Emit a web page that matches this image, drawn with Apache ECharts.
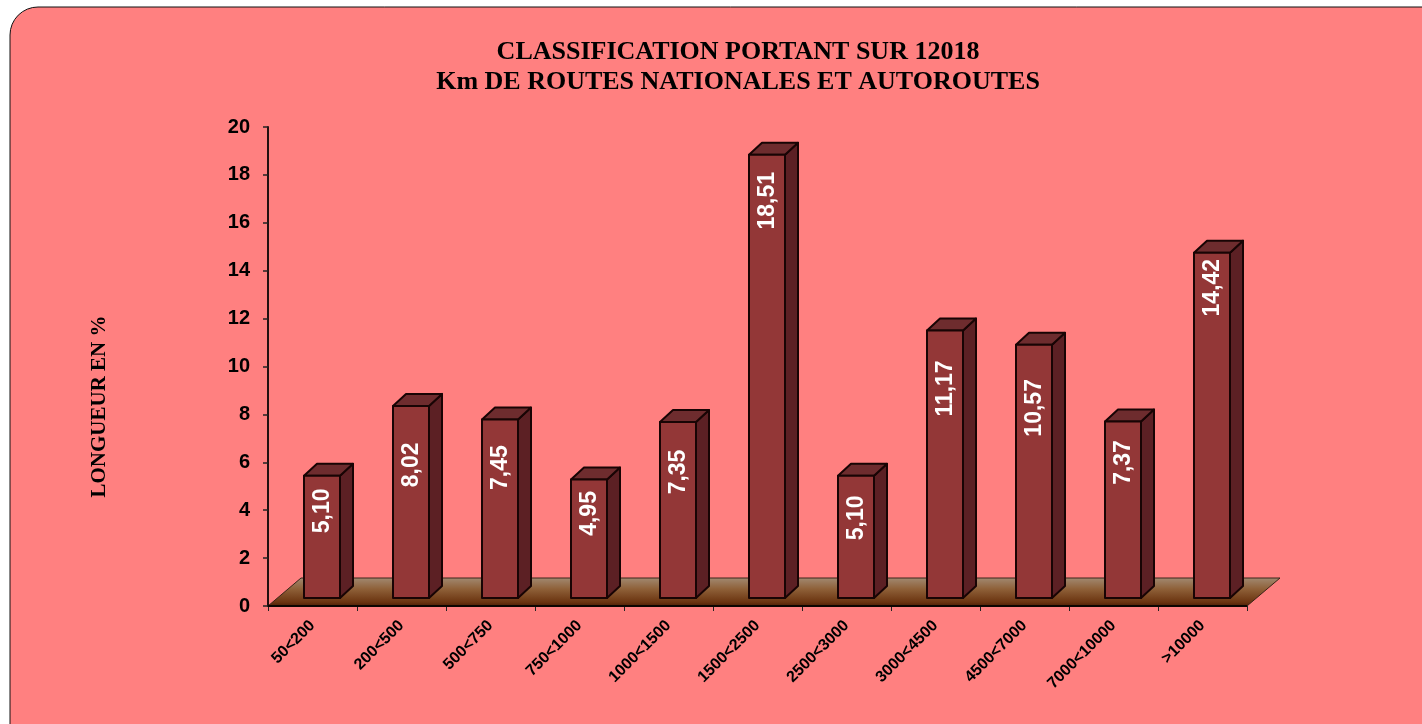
<!DOCTYPE html>
<html><head><meta charset="utf-8">
<style>html,body{margin:0;padding:0;background:#fff}#c{width:1422px;height:724px}</style>
<script src="https://cdn.jsdelivr.net/npm/echarts@6/dist/echarts.min.js"></script>
</head><body><div id="c"></div>
<script>
const categories = ['50<200','200<500','500<750','750<1000','1000<1500','1500<2500','2500<3000','3000<4500','4500<7000','7000<10000','>10000'];
const values = [5.10,8.02,7.45,4.95,7.35,18.51,5.10,11.17,10.57,7.37,14.42];
const yTicks = {min:0,max:20,interval:2};
const titleLines = 'CLASSIFICATION PORTANT SUR 12018\nKm DE ROUTES NATIONALES ET AUTOROUTES';
const yName = 'LONGUEUR EN %';
// layout only: distance from bar top to the centre of its rotated label
const labelGap = [35,59,48,34,50,46,42,58,63,41,35];

const FW=36, DX=13, DY=12, SHIFT=9.5, LIFT=8;
const line={stroke:'#180404',lineWidth:2,lineJoin:'round'};
const chart=echarts.init(document.getElementById('c'),null,{renderer:'canvas'});
chart.setOption({
  animation:false,
  backgroundColor:'#ffffff',
  graphic:[{type:'rect',z:-10,shape:{x:10,y:7,width:1500,height:800,r:28},
    style:{fill:'#FF8080',stroke:'#111',lineWidth:1}}],
  title:{text:titleLines,left:733,top:32,textAlign:'center',
    textStyle:{fontFamily:'Liberation Serif',fontWeight:'bold',fontSize:26,lineHeight:30,color:'#000'}},
  grid:{left:268,top:127,width:979,height:479},
  xAxis:{type:'category',data:categories,
    axisLine:{lineStyle:{color:'#111',width:1.5}},
    axisTick:{show:true,length:5,alignWithLabel:false,lineStyle:{color:'#222'}},
    axisLabel:{rotate:45,interval:0,margin:17,color:'#000',fontFamily:'Liberation Sans',fontWeight:'bold',fontSize:16}},
  yAxis:{type:'value',min:yTicks.min,max:yTicks.max,interval:yTicks.interval,
    name:yName,nameLocation:'middle',nameGap:158,
    nameTextStyle:{fontFamily:'Liberation Serif',fontWeight:'bold',fontSize:21,color:'#000',padding:[0,80,0,0]},
    splitLine:{show:false},
    axisLine:{show:true,lineStyle:{color:'#221010',width:2}},
    axisTick:{show:true,length:5,lineStyle:{color:'#222',width:1.5}},
    axisLabel:{margin:18,color:'#000',fontFamily:'Liberation Sans',fontWeight:'bold',fontSize:20}},
  series:[
   {type:'custom',coordinateSystem:'cartesian2d',clip:false,z:1,data:[[0,0]],
    renderItem(params,api){
      const s=params.coordSys, b=s.y+s.height, t=b-28;
      return {type:'group',children:[
        {type:'polygon',shape:{points:[[s.x,b],[s.x+s.width,b],[s.x+s.width+33,t],[s.x+33,t]]},
         style:{fill:new echarts.graphic.LinearGradient(0,0,0,1,[
            {offset:0,color:'#A28A72'},{offset:.4,color:'#8E6038'},{offset:.85,color:'#6B3410'},{offset:1,color:'#4a1e06'}]),
            stroke:'#3a2418',lineWidth:1}},
        {type:'line',shape:{x1:s.x,y1:b,x2:s.x+s.width,y2:b},style:{stroke:'#0d0500',lineWidth:2}}
      ]};
    }},
   {type:'custom',coordinateSystem:'cartesian2d',clip:false,z:2,
    data:values.map((v,i)=>[i,v]),
    renderItem(params,api){
      const i=api.value(0), v=api.value(1);
      const p=api.coord([i,v]), x=p[0]+SHIFT-FW/2, top=p[1]-LIFT, bot=api.coord([i,0])[1]-LIFT, r=x+FW;
      return {type:'group',children:[
        {type:'polygon',shape:{points:[[r,top],[r+DX,top-DY],[r+DX,bot-DY],[r,bot]]},style:Object.assign({fill:'#5C2024'},line)},
        {type:'polygon',shape:{points:[[x,top],[x+DX,top-DY],[r+DX,top-DY],[r,top]]},style:Object.assign({fill:'#6E2C2E'},line)},
        {type:'rect',shape:{x:x,y:top,width:FW,height:bot-top},style:Object.assign({fill:'#933737'},line)},
        {type:'text',x:x+FW/2+1,y:top+labelGap[i],rotation:Math.PI/2,
         style:{text:v.toFixed(2).replace('.',','),fill:'#fff',align:'center',verticalAlign:'middle',
           font:'bold 23px "Liberation Sans"'}}
      ]};
    }}
  ]
});
</script></body></html>
